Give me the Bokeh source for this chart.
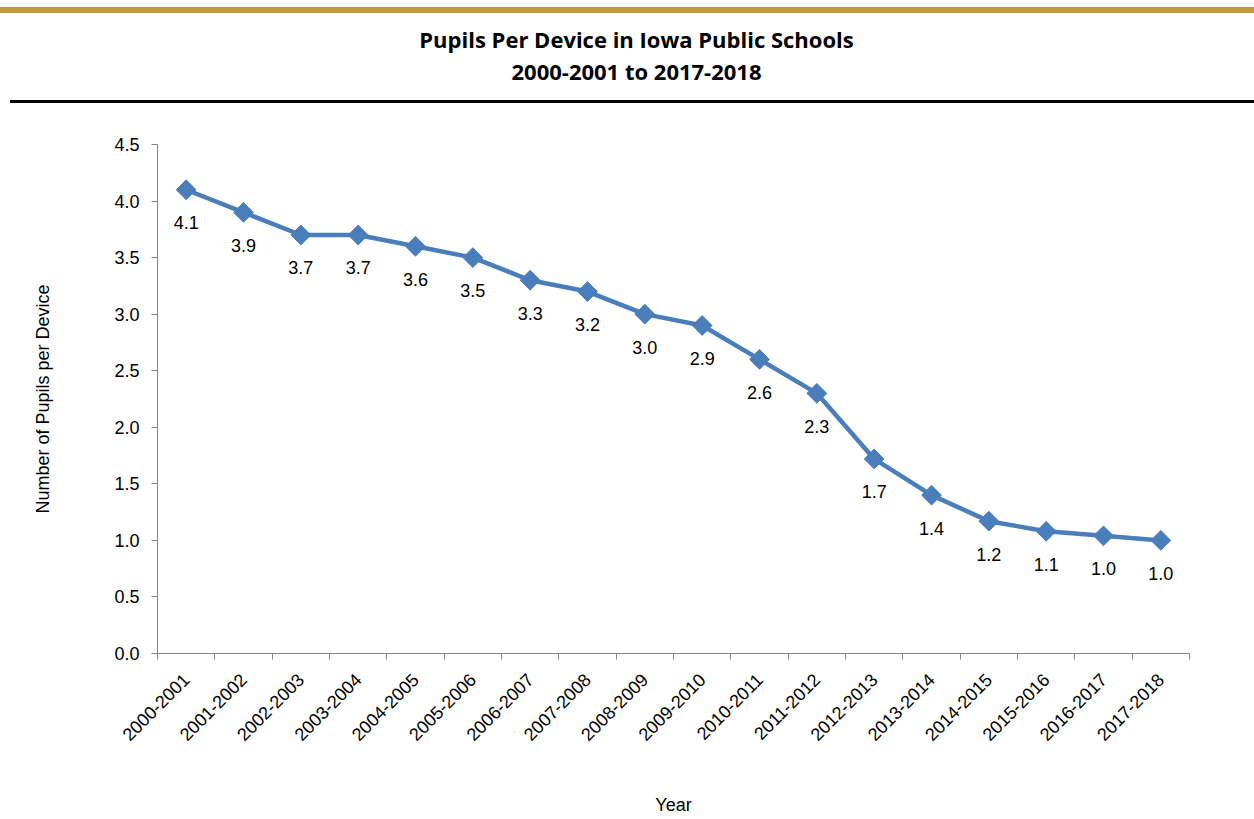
from bokeh.plotting import figure
from bokeh.layouts import column
from bokeh.models import Range1d, FixedTicker, PrintfTickFormatter, ColumnDataSource, Div
from bokeh.core.properties import value
from bokeh.embed import file_html
from bokeh.resources import INLINE

# ---- data ----
years = ["2000-2001", "2001-2002", "2002-2003", "2003-2004", "2004-2005", "2005-2006",
         "2006-2007", "2007-2008", "2008-2009", "2009-2010", "2010-2011", "2011-2012",
         "2012-2013", "2013-2014", "2014-2015", "2015-2016", "2016-2017", "2017-2018"]
pupils_per_device = [4.1, 3.9, 3.7, 3.7, 3.6, 3.5, 3.3, 3.2, 3.0, 2.9, 2.6, 2.3,
                     1.72, 1.40, 1.17, 1.08, 1.04, 1.0]
y_ticks = [0.0, 0.5, 1.0, 1.5, 2.0, 2.5, 3.0, 3.5, 4.0, 4.5]
title_line1 = "Pupils Per Device in Iowa Public Schools"
title_line2 = "2000-2001 to 2017-2018"
y_title = "Number of Pupils per Device"
x_title = "Year"

FONT = "Liberation Sans"
BLUE = "#4A7EBB"
AXIS_GRAY = "#868686"
W = 1254
LEFT, RIGHT = 157, 65
TITLE_H = 87
MAIN_H = 716

# ---- gold bar ----
gold = Div(text="", width=W, height=6, margin=(7, 0, 0, 0),
           styles={"background-color": "#BF9A38"})

# ---- title figure ----
h = figure(width=W, height=TITLE_H, x_range=Range1d(LEFT, W - RIGHT), y_range=Range1d(TITLE_H, 0),
           output_backend="svg", toolbar_location=None,
           min_border_left=LEFT, min_border_right=RIGHT, min_border_top=0, min_border_bottom=0,
           x_axis_location=None, y_axis_location=None, outline_line_color=None)
h.grid.visible = False
h.text(x=[636, 636], y=[25, 57], text=[title_line1, title_line2],
       text_font=value("Open Sans"), text_font_style="bold", text_font_size="22px",
       text_align="center", text_baseline="alphabetic", text_color="black")

# ---- black rule ----
rule = Div(text="", width=W - 10, height=3, margin=(0, 0, 0, 10),
           styles={"background-color": "black"})

# ---- main chart ----
n = len(years)
xs = [i + 0.5 for i in range(n)]
labels = [f"{v:.1f}" for v in pupils_per_device]
src = ColumnDataSource(dict(x=xs, y=pupils_per_device, label=labels))

p = figure(width=W, height=MAIN_H, x_range=Range1d(0, n), y_range=Range1d(0, 4.5),
           output_backend="svg", toolbar_location=None,
           min_border_left=LEFT, min_border_right=RIGHT, min_border_top=41, min_border_bottom=166,
           outline_line_color=None)
p.grid.visible = False

p.line("x", "y", source=src, line_color=BLUE, line_width=4.5)
p.scatter("x", "y", source=src, marker="square", size=14, angle=0.785398,
          fill_color=BLUE, line_color=BLUE)
p.text("x", "y", text="label", source=src, y_offset=33, text_align="center",
       text_baseline="middle", text_font=value(FONT), text_font_size="18px", text_color="black")

# x axis: labels at category centres, tick marks at boundaries
xa = p.xaxis[0]
xa.ticker = FixedTicker(ticks=xs, minor_ticks=list(range(n + 1)))
xa.major_label_overrides = {x: y for x, y in zip(xs, years)}
xa.major_label_orientation = 0.785398
xa.major_tick_out = 0
xa.major_tick_in = 0
xa.minor_tick_out = 6
xa.minor_tick_in = 0
xa.minor_tick_line_color = AXIS_GRAY
xa.axis_line_color = AXIS_GRAY
xa.major_label_text_font = FONT
xa.major_label_text_font_size = "18px"
xa.major_label_text_color = "black"
xa.major_label_standoff = 17
xa.axis_label = x_title
xa.axis_label_text_font = FONT
xa.axis_label_text_font_size = "18px"
xa.axis_label_text_font_style = "normal"
xa.axis_label_text_color = "black"
xa.axis_label_standoff = 45

ya = p.yaxis[0]
ya.ticker = FixedTicker(ticks=y_ticks, minor_ticks=[])
ya.formatter = PrintfTickFormatter(format="%.1f")
ya.major_tick_out = 6
ya.major_tick_in = 0
ya.minor_tick_out = 0
ya.minor_tick_in = 0
ya.major_tick_line_color = AXIS_GRAY
ya.axis_line_color = AXIS_GRAY
ya.major_label_text_font = FONT
ya.major_label_text_font_size = "18px"
ya.major_label_text_color = "black"
ya.major_label_standoff = 12
ya.axis_label = y_title
ya.axis_label_text_font = FONT
ya.axis_label_text_font_size = "18px"
ya.axis_label_text_font_style = "normal"
ya.axis_label_text_color = "black"
ya.axis_label_standoff = 58

layout = column(gold, h, rule, p, spacing=0)
open("out.html", "w").write(file_html(layout, INLINE))
